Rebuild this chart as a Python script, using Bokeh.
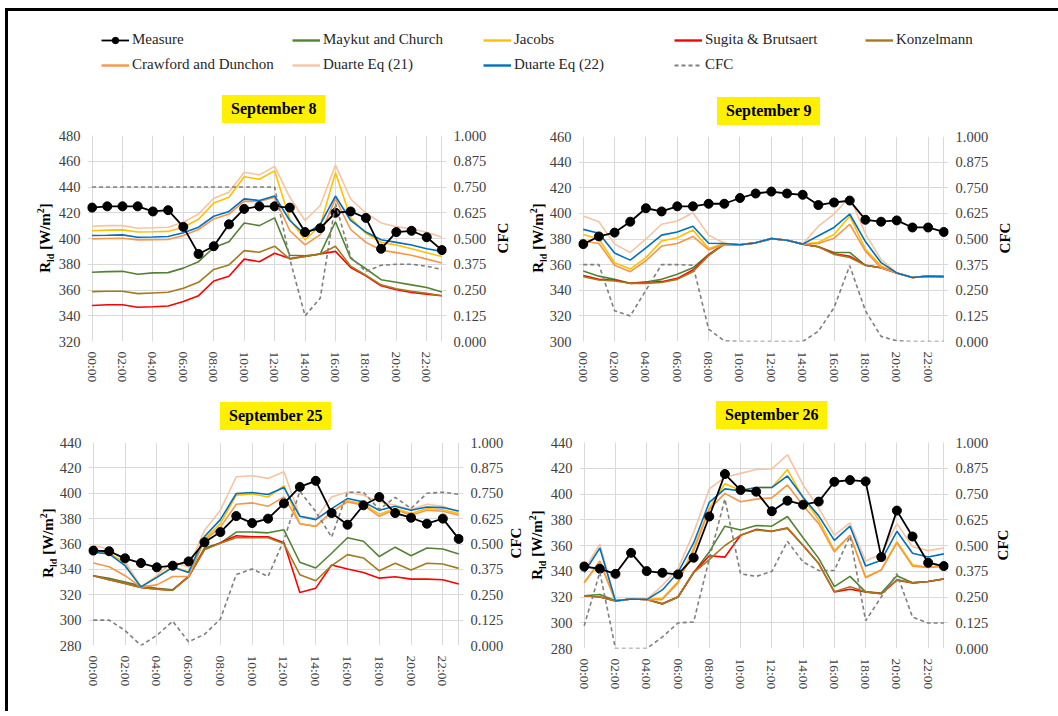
from bokeh.plotting import figure
from bokeh.models import (Range1d, LinearAxis, FixedTicker, Legend, LegendItem,
                          NumeralTickFormatter, Div)
from bokeh.layouts import column, row
from bokeh.embed import file_html
from bokeh.resources import INLINE

# ---------------------------------------------------------------- data
hour_labels = ["00:00", "01:00", "02:00", "03:00", "04:00", "05:00", "06:00", "07:00",
               "08:00", "09:00", "10:00", "11:00", "12:00", "13:00", "14:00", "15:00",
               "16:00", "17:00", "18:00", "19:00", "20:00", "21:00", "22:00", "23:00"]
even_hours = [0, 2, 4, 6, 8, 10, 12, 14, 16, 18, 20, 22]
cfc_ticks = [0.0, 0.125, 0.25, 0.375, 0.5, 0.625, 0.75, 0.875, 1.0]

# September 8
s8_measure = [424, 425, 425, 425, 421, 422, 409, 388, 394, 411, 423, 425,
              425, 424, 405, 408, 420, 421, 416, 392, 405, 406, 401, 391]
s8_maykut = [373.8, 374.3, 374.5, 372.2, 373.3, 373.5, 377, 382, 393, 397.5, 412, 410,
             416, 387, 386.5, 388, 413, 384.5, 376.5, 368, 366, 364, 362, 358.5]
s8_jacobs = [406, 406.5, 406.7, 405, 405.2, 405.5, 408.7, 415, 427.5, 432, 448, 446,
             452.5, 415, 399, 410, 451, 416, 404, 397, 395, 392, 389, 386]
s8_sugita = [348, 348.5, 348.6, 346.6, 347, 347.6, 351, 355.6, 367, 370.7, 384, 382,
             388.5, 384.5, 386, 388, 390, 377.5, 371, 363.3, 360.2, 358.1, 356.8, 355.5]
s8_konzel = [358.7, 359, 359, 357.2, 357.7, 358.2, 361.3, 366, 376, 379.5, 390.6, 389.3,
             394, 384, 386, 388, 394, 378.5, 371.5, 364, 361, 359, 357.5, 355.5]
s8_crawford = [399.7, 400, 400.2, 398.9, 399, 399.2, 402.3, 407, 415.2, 419, 429, 428.7,
               432, 406, 395, 403, 431, 407, 397, 391, 389, 387, 384, 381]
s8_duarte21 = [409.5, 410, 410, 408, 408.3, 408.7, 412.6, 419, 431.3, 436, 451.5, 449.4,
               456, 432, 414, 425.6, 457, 430.7, 419.8, 412.1, 409.2, 407.4, 404.8, 400.9]
s8_duarte22 = [402.3, 402.5, 402.8, 401, 401.2, 401.5, 404.4, 408.8, 417.3, 421, 430.8, 429.5,
               433, 414, 403, 411, 433, 414, 405, 399, 397, 395, 392, 390]
s8_cfc = [0.75, 0.75, 0.75, 0.75, 0.75, 0.75, 0.75, 0.75, 0.75, 0.75, 0.75, 0.75,
          0.75, 0.40, 0.125, 0.21, 0.67, 0.41, 0.34, 0.37, 0.375, 0.375, 0.365, 0.35]

# September 9
s9_measure = [376, 382, 385, 393.5, 404, 401.5, 405.5, 405.5, 407.5, 407.5, 412, 415.5,
              417, 415.5, 414.5, 406.5, 408.5, 410, 395, 393.5, 394.5, 389, 389, 385.5]
s9_maykut = [355, 351, 348.5, 345.5, 346.5, 348.5, 352.5, 357.5, 368, 376, 375.5, 377,
             380.3, 379, 376, 374, 369.5, 369.5, 359.5, 357.5, 353.5, 350, 351, 350.6]
s9_jacobs = [383.5, 380, 361.5, 356.5, 365.5, 378.5, 381, 387, 372.5, 376.5, 375.5, 377,
             380.3, 379, 376, 377.5, 383.5, 398, 372, 359, 353.5, 350, 351, 350.6]
s9_sugita = [351.5, 348.5, 347.8, 345.4, 346, 346.7, 349.3, 355.8, 367.5, 376, 375.5, 377,
             380.3, 379, 376, 374, 368.5, 366.5, 359.5, 357.5, 353.5, 350, 351, 350.6]
s9_konzel = [350.5, 348, 347.2, 345.4, 345.4, 346, 348.5, 354.5, 367, 376, 375.5, 377,
             380.3, 379, 376, 374, 368, 365.5, 359.5, 357.5, 353.5, 350, 351, 350.6]
s9_crawford = [378.5, 376.5, 359.5, 354.5, 363, 374.5, 376.5, 382, 371.5, 376, 375.5, 377,
               380.3, 379, 376, 376.5, 380.5, 391.5, 370.5, 357.5, 353.5, 350, 351, 350.6]
s9_duarte21 = [398, 393.5, 376, 369.5, 380, 391.5, 394, 400.5, 383, 376.7, 375.5, 377,
               380.3, 379, 376, 390, 399.5, 413, 384, 364, 353.5, 350, 351, 350.6]
s9_duarte22 = [387.5, 384.5, 369, 363.5, 373, 383, 385.5, 390, 376.7, 376.5, 375.5, 377,
               380.3, 379, 376, 382.5, 389, 399.5, 378, 361.5, 353.5, 350, 351, 350.6]
s9_cfc = [0.375, 0.375, 0.15, 0.125, 0.25, 0.375, 0.375, 0.372, 0.06, 0.003, 0.0, 0.0,
          0.0, 0.0, 0.0, 0.05, 0.165, 0.37, 0.15, 0.025, 0.003, 0.0, 0.0, 0.0]

# September 25
s25_measure = [354.8, 354.3, 348.7, 345, 341.6, 342.9, 346.3, 361.4, 369.4, 382, 376.5, 380,
               392, 405, 409.8, 384.4, 375.2, 390.5, 397, 384.4, 380.7, 376, 380, 364]
s25_maykut = [335, 333, 330, 327, 325, 324, 334, 357, 360.6, 369.4, 369.4, 368.8,
              371.2, 345.6, 341.1, 352.7, 364.9, 362.2, 350.1, 357.5, 350.8, 356.9, 356.1, 352.2]
s25_jacobs = [354.5, 353, 345, 326.2, 334, 342, 338, 364, 376, 398.5, 399.5, 397,
              406, 376, 374, 385, 394, 391.5, 383.5, 388, 384, 388, 387, 384]
s25_sugita = [335, 331.8, 328.9, 325.7, 324.4, 323.6, 334.4, 355.6, 361, 366.5, 365.7, 365.7,
              361, 321.7, 325.2, 343.4, 340.3, 337.6, 333.1, 334.2, 332.3, 332.3, 331.8, 328.4]
s25_konzel = [335, 331.8, 328.9, 325.7, 324.4, 323.6, 334.4, 355.6, 360.6, 364.9, 364.9, 364.9,
              360.1, 335.8, 331, 342.9, 351.6, 349, 338.9, 344.8, 339.5, 344.8, 344.2, 340.8]
s25_crawford = [345, 342.1, 335, 326.2, 327.8, 334.4, 334.4, 362.8, 373.3, 391.3, 392.4, 389.7,
                397.1, 376, 373.9, 385.2, 393.2, 390.5, 381.8, 387.1, 382.6, 386.6, 385.8, 382.6]
s25_duarte21 = [358.8, 356, 346.3, 326.2, 335, 346.3, 341.6, 370.7, 386.6, 413, 413.8, 411.7,
                417, 381.8, 380, 397, 401, 398.5, 393.2, 390.5, 387.1, 391.3, 389.7, 385.2]
s25_duarte22 = [353.5, 352.2, 342.9, 326.2, 333.7, 341.6, 337.6, 365.9, 379.2, 399.8, 400.6, 399,
                404.6, 381.8, 379.2, 387.9, 395.8, 393.2, 386.6, 389.7, 386.6, 389.2, 388.7, 386]
s25_cfc = [0.125, 0.125, 0.074, 0.0, 0.05, 0.12, 0.018, 0.055, 0.13, 0.35, 0.377, 0.34,
           0.52, 0.76, 0.66, 0.534, 0.755, 0.755, 0.67, 0.73, 0.675, 0.75, 0.755, 0.745]

# September 26
s26_measure = [343.7, 341.9, 338, 354.3, 340.1, 338.8, 337.5, 350.5, 382.5, 415.5, 403.1, 401.8,
               386.6, 394.8, 391.7, 394.1, 409.5, 410.8, 409.8, 351, 387.1, 367, 346.6, 344]
s26_maykut = [321, 322, 317, 318.5, 318, 315, 320, 339, 355, 375, 372, 375.5,
              375, 382.5, 366, 350, 328, 336, 324, 323, 336.5, 331, 332, 334]
s26_jacobs = [331, 347, 317, 318.5, 318, 319, 332, 358, 389, 408, 403, 405,
              405, 419, 397, 380, 356, 368, 335.5, 341, 363, 345, 343, 344]
s26_sugita = [321, 320, 317, 318.5, 318, 314.5, 320, 339, 352, 351, 368, 372.5,
              371, 373.5, 360, 346, 324, 326, 324, 322.5, 333, 331, 332, 334]
s26_konzel = [321, 320, 317, 318.5, 318, 314.5, 320, 339, 349, 360, 368, 372,
              371, 373.5, 360, 346, 324, 328, 324, 322.5, 333.5, 331, 332, 334]
s26_crawford = [331, 348, 317, 318.5, 318, 318, 331, 356, 388, 400.5, 394, 396,
                397, 407, 391, 377, 355, 368, 335, 341, 362, 344, 343, 344]
s26_duarte21 = [341, 361, 317, 318.5, 318, 329, 342, 370, 404, 413, 416, 419,
                419.5, 430.5, 407, 389, 368, 377.5, 348, 353.5, 377, 359, 356, 358]
s26_duarte22 = [339, 358, 317, 318.5, 318, 325.5, 339, 362, 393.5, 404, 402.5, 405,
                405, 414, 397.5, 383, 364, 375, 344, 348.5, 371, 354, 351, 353.5]
s26_cfc = [0.11, 0.37, 0.0, 0.0, 0.0, 0.056, 0.124, 0.129, 0.435, 0.726, 0.363, 0.35,
           0.374, 0.52, 0.42, 0.379, 0.379, 0.545, 0.135, 0.25, 0.363, 0.152, 0.124, 0.124]

# ---------------------------------------------------------------- styling
SERIF = "Liberation Serif"
GRID = "#D9D9D9"
TICK_TXT = "#404040"
MODEL_COLORS = {
    "Maykut and Church": "#548235",
    "Jacobs": "#FFC000",
    "Sugita & Brutsaert": "#FF0000",
    "Konzelmann": "#A47B1C",
    "Crawford and Dunchon": "#F79646",
    "Duarte Eq (21)": "#F8C3A2",
    "Duarte Eq (22)": "#0070C0",
}
CFC_COLOR = "#7F7F7F"
X_PAD = 0.3  # keeps the end markers whole inside the frame

RLD_HTML = ('R<sub style="font-size:10px;line-height:0;">ld</sub> [W/m'
            '<sup style="font-size:10px;line-height:0;">2</sup>]')


def side_title(html_text, w, h, cx, cy):
    """Vertical axis title (reads bottom-to-top) centred on (cx, cy) of its strip."""
    inner = ('<div style="position:relative;width:%dpx;height:%dpx;">'
             '<span style="position:absolute;left:%dpx;top:%dpx;display:block;'
             'width:max-content;transform:translate(-50%%,-50%%) rotate(-90deg);'
             "font-family:'Liberation Serif',serif;font-weight:bold;font-size:15px;"
             'color:#000;white-space:nowrap;line-height:17px;">%s</span></div>'
             % (w, h, cx, cy, html_text))
    return Div(text=inner, width=w, height=h, margin=0)


def badge(text, w, h, left, top):
    """Yellow date badge shown above each panel."""
    inner = ('<div style="display:inline-block;margin-left:%dpx;margin-top:%dpx;'
             'background:#FFEF00;padding:5px 9px;'
             "font-family:'Liberation Serif',serif;font-weight:bold;font-size:16px;"
             'line-height:18px;color:#000;white-space:nowrap;">%s</div>'
             % (left, top, text))
    return Div(text=inner, width=w, height=h, margin=0)


def build_panel(ylo, yhi, models, measure, cfc, frame_w, frame_h,
                b_left, b_right, b_bottom):
    p = figure(frame_width=frame_w, frame_height=frame_h,
               min_border_left=b_left, min_border_top=10,
               min_border_right=b_right, min_border_bottom=b_bottom,
               x_range=Range1d(-X_PAD, 23 + X_PAD), y_range=Range1d(ylo, yhi),
               output_backend="svg", toolbar_location=None)
    p.outline_line_color = None
    p.background_fill_color = "white"
    p.border_fill_color = "white"

    p.yaxis.ticker = FixedTicker(ticks=list(range(ylo, yhi + 1, 20)))
    p.xaxis.ticker = FixedTicker(ticks=even_hours)
    p.xaxis.major_label_overrides = {h: hour_labels[h] for h in even_hours}
    p.xaxis.major_label_orientation = -1.5707963
    p.xgrid.ticker = FixedTicker(ticks=even_hours + [23])
    for g in (p.xgrid, p.ygrid):
        g.grid_line_color = GRID
        g.grid_line_width = 1

    p.extra_y_ranges = {"cfc": Range1d(0, 1)}
    ax_r = LinearAxis(y_range_name="cfc", ticker=FixedTicker(ticks=cfc_ticks),
                      formatter=NumeralTickFormatter(format="0.000"))
    p.add_layout(ax_r, "right")

    for ax in (p.xaxis[0], p.yaxis[0], ax_r):
        ax.major_tick_line_color = None
        ax.minor_tick_line_color = None
        ax.major_tick_out = 0
        ax.major_tick_in = 0
        ax.minor_tick_out = 0
        ax.minor_tick_in = 0
        ax.axis_line_color = None
        ax.major_label_text_font = SERIF
        ax.major_label_text_color = TICK_TXT
        ax.major_label_standoff = 7
        ax.major_label_text_font_size = "14.5px"
    p.xaxis.major_label_text_font_size = "13.5px"
    p.xaxis.major_label_standoff = 10

    hrs = list(range(len(hour_labels)))
    for name, ys in models:
        p.line(hrs, ys, line_color=MODEL_COLORS[name], line_width=1.6)
    p.line(hrs, measure, line_color="black", line_width=1.8)
    p.scatter(hrs, measure, size=9, marker="circle", fill_color="black", line_color="black")
    p.line(hrs, cfc, y_range_name="cfc", line_color=CFC_COLOR, line_width=1.6,
           line_dash="4 3")
    return p


def models_for(mk, jc, sg, kz, cr, d21, d22):
    return [("Maykut and Church", mk), ("Jacobs", jc), ("Sugita & Brutsaert", sg),
            ("Konzelmann", kz), ("Crawford and Dunchon", cr),
            ("Duarte Eq (21)", d21), ("Duarte Eq (22)", d22)]


p1 = build_panel(320, 480,
                 models_for(s8_maykut, s8_jacobs, s8_sugita, s8_konzel, s8_crawford,
                            s8_duarte21, s8_duarte22),
                 s8_measure, s8_cfc, 359, 206, 33, 46, 52)
p2 = build_panel(300, 460,
                 models_for(s9_maykut, s9_jacobs, s9_sugita, s9_konzel, s9_crawford,
                            s9_duarte21, s9_duarte22),
                 s9_measure, s9_cfc, 370, 205, 32, 45, 52)
p3 = build_panel(280, 440,
                 models_for(s25_maykut, s25_jacobs, s25_sugita, s25_konzel, s25_crawford,
                            s25_duarte21, s25_duarte22),
                 s25_measure, s25_cfc, 375, 203, 32, 43, 66)
p4 = build_panel(280, 440,
                 models_for(s26_maykut, s26_jacobs, s26_sugita, s26_konzel, s26_crawford,
                            s26_duarte21, s26_duarte22),
                 s26_measure, s26_cfc, 369, 206, 33, 43, 63)

row1 = row(side_title(RLD_HTML, 46, 303, 37, 148),
           column(badge("September 8", 438, 35, 168, 5), p1),
           side_title("CFC", 28, 303, 11, 148),
           side_title(RLD_HTML, 26, 303, 18, 148),
           column(badge("September 9", 447, 36, 171, 7), p2),
           side_title("CFC", 65, 303, 12, 148),)
row2 = row(side_title(RLD_HTML, 48, 318, 40, 150),
           column(badge("September 25", 450, 39, 164, 9), p3),
           side_title("CFC", 22, 318, 10, 150),
           side_title(RLD_HTML, 18, 318, 9, 152),
           column(badge("September 26", 445, 39, 170, 8), p4),
           side_title("CFC", 67, 318, 12, 152))

# ---------------------------------------------------------------- shared legend
lg = figure(width=1050, height=79, x_range=Range1d(0, 1), y_range=Range1d(0, 1),
            output_backend="svg", toolbar_location=None, min_border=0)
lg.axis.visible = False
lg.xgrid.visible = False
lg.ygrid.visible = False
lg.outline_line_color = None

nan = float("nan")
legend_entries = [
    ("Measure", [lg.line([nan], [nan], line_color="black", line_width=1.8),
                 lg.scatter([nan], [nan], size=9, marker="circle", fill_color="black",
                            line_color="black")]),
    ("Maykut and Church", [lg.line([nan], [nan], line_color=MODEL_COLORS["Maykut and Church"], line_width=2.4)]),
    ("Jacobs", [lg.line([nan], [nan], line_color=MODEL_COLORS["Jacobs"], line_width=2.4)]),
    ("Sugita & Brutsaert", [lg.line([nan], [nan], line_color=MODEL_COLORS["Sugita & Brutsaert"], line_width=2.4)]),
    ("Konzelmann", [lg.line([nan], [nan], line_color=MODEL_COLORS["Konzelmann"], line_width=2.4)]),
    ("Crawford and Dunchon", [lg.line([nan], [nan], line_color=MODEL_COLORS["Crawford and Dunchon"], line_width=2.4)]),
    ("Duarte Eq (21)", [lg.line([nan], [nan], line_color=MODEL_COLORS["Duarte Eq (21)"], line_width=2.4)]),
    ("Duarte Eq (22)", [lg.line([nan], [nan], line_color=MODEL_COLORS["Duarte Eq (22)"], line_width=2.4)]),
    ("CFC", [lg.line([nan], [nan], line_color=CFC_COLOR, line_width=1.8, line_dash="4 3")]),
]
for i, (label, rends) in enumerate(legend_entries):
    col = i % 5
    rw = i // 5
    leg = Legend(items=[LegendItem(label=label, renderers=rends)],
                 location=(93 + 191 * col, 42 - 25 * rw),
                 border_line_color=None, background_fill_alpha=0,
                 padding=0, margin=0, spacing=0,
                 glyph_width=28, glyph_height=16, label_height=16, label_standoff=3,
                 label_text_font=SERIF, label_text_font_size="15px",
                 label_text_color="#262626")
    lg.add_layout(leg)

page = column(lg, row1, row2, margin=(8, 0, 0, 5),
              styles={"border-top": "3px solid black", "border-left": "3px solid black"})

open("out.html", "w").write(file_html(page, INLINE))
